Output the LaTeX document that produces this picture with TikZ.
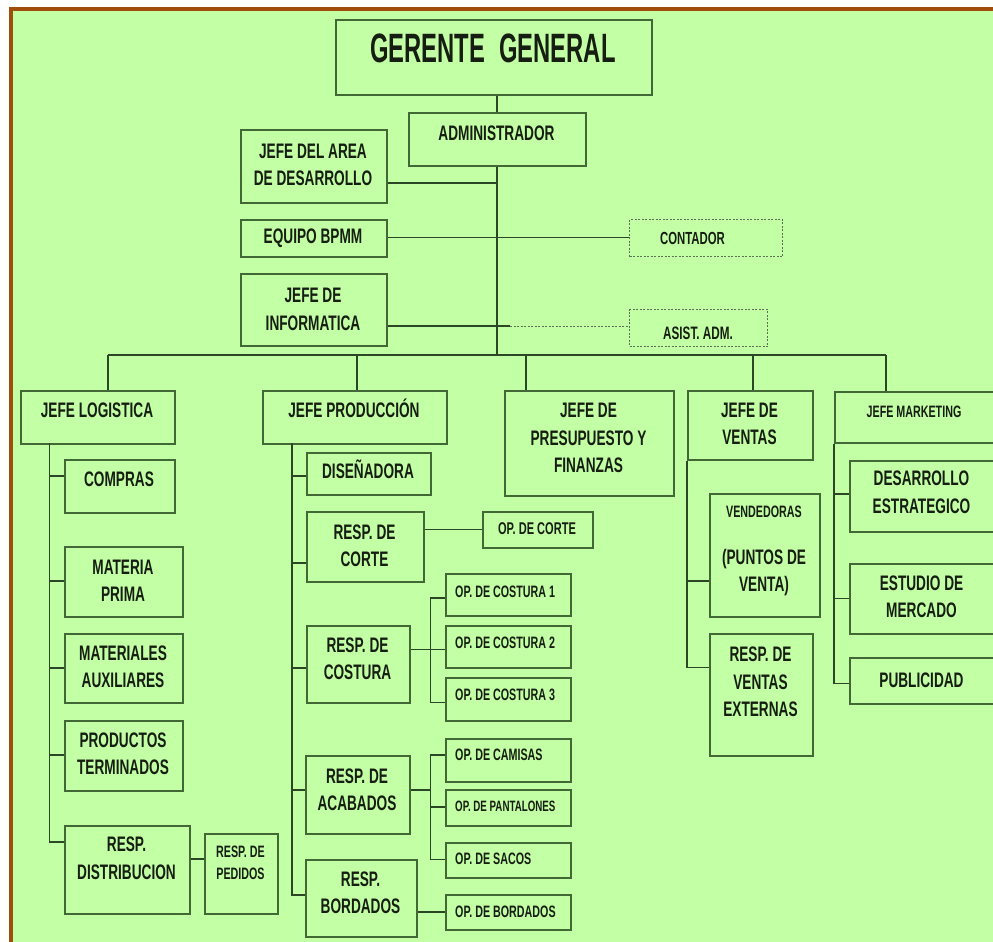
\documentclass[tikz,border=0pt]{standalone}
\usepackage{fontspec}
\setmainfont{Liberation Sans}[FakeStretch=0.65]
\newfontfamily\titlefont{Liberation Sans}[FakeStretch=0.58]
\usetikzlibrary{positioning}
\definecolor{orgbg}{RGB}{195,255,165}
\definecolor{orgframe}{RGB}{160,78,12}
\definecolor{orgline}{RGB}{66,104,54}
\definecolor{orgedge}{RGB}{42,70,36}
\definecolor{orgtext}{RGB}{22,30,18}
\newcommand\bigtxt{\fontsize{21}{27.5}\selectfont}
\newcommand\smalltxt{\fontsize{16.5}{22}\selectfont}
\tikzset{
  org box/.style={draw=orgline, fill=orgbg, line width=2pt, inner sep=0pt},
  org dash/.style={draw=orgline!60!gray, line width=1pt, dash pattern=on 2pt off 1.5pt},
  org lbl/.style={text=orgtext, font=\bfseries\bigtxt, align=center, inner sep=0pt},
  op lbl/.style={font=\bfseries\smalltxt, anchor=west, xshift=-52.5pt},
  mk lbl/.style={xshift=-3pt},
  org edge/.style={draw=orgedge, line width=1.6pt},
}
% box from its two corners, label centred at the given height
\NewDocumentCommand\orgbox{O{} O{} m m m m m m m}{%
  \node[org box, #1, anchor=north west, minimum width={(#6-#4)*1pt},
    minimum height={(#7-#5)*1pt}] (#3) at (#4,#5) {};
  \node[org lbl, #2] (#3-t) at ({(#4+#6)/2},#8) {#9};
}
\begin{document}
\begin{tikzpicture}[x=1pt, y=-1pt]
 \useasboundingbox (0,0) rectangle (993,942);
 \fill[white] (0,0) rectangle (993,942);
 \fill[orgframe] (9,7) rectangle (993,942);
 \fill[orgbg] (13,11) rectangle (993,942);
 \clip (0,0) rectangle (993,942);
 % top of the chart
 \orgbox[][font=\titlefont\bfseries\fontsize{41}{48}\selectfont]{ger}{335}{19}{651}{94}{48}{GERENTE\hspace{14pt}GENERAL}
 \orgbox{adm}{408}{112}{585}{165}{133}{ADMINISTRADOR}
 \orgbox{area}{240}{129}{386}{202}{165}{JEFE DEL AREA\\DE DESARROLLO}
 \orgbox{bpmm}{240}{219}{386}{256}{238.5}{EQUIPO BPMM}
 \orgbox{info}{240}{273}{386}{345}{309.5}{JEFE DE\\INFORMATICA}
 \orgbox[org dash][font=\bfseries\fontsize{17.5}{22}\selectfont, xshift=-13pt]{cont}{629}{219}{782}{256}{238.5}{CONTADOR}
 \orgbox[org dash][font=\bfseries\fontsize{18}{22}\selectfont]{asis}{629}{309}{767}{346}{333}{ASIST. ADM.}
 % jefaturas
 \orgbox{log}{20}{390}{174}{443}{410.5}{JEFE LOGISTICA}
 \orgbox{prod}{262}{390}{446}{443}{408}{JEFE PRODUCCIÓN}
 \orgbox{pres}{504}{390}{673}{495}{438}{JEFE DE\\PRESUPUESTO Y\\FINANZAS}
 \orgbox{vent}{687}{390}{812}{459}{424}{JEFE DE\\VENTAS}
 \orgbox[][font=\bfseries\smalltxt, mk lbl]{mkt}{834}{391}{1000}{442}{412}{JEFE MARKETING}
 % logistica
 \orgbox{comp}{64}{459}{174}{512}{479}{COMPRAS}
 \orgbox{mat}{64}{546}{182}{616}{581}{MATERIA\\PRIMA}
 \orgbox{aux}{64}{633}{182}{702}{667}{MATERIALES\\AUXILIARES}
 \orgbox{ter}{64}{720}{182}{790}{754}{PRODUCTOS\\TERMINADOS}
 \orgbox{dis}{64}{825}{189}{913}{858.5}{RESP.\\DISTRIBUCION}
 \orgbox[][font=\bfseries\smalltxt]{ped}{204}{833}{277}{913}{863}{RESP. DE\\PEDIDOS}
 % produccion
 \orgbox{dsn}{306}{452}{430}{494}{469}{DISEÑADORA}
 \orgbox{cor}{306}{511}{423}{581}{546}{RESP. DE\\CORTE}
 \orgbox[][font=\bfseries\fontsize{17}{22}\selectfont]{opc}{482}{511}{592}{547}{529}{OP. DE CORTE}
 \orgbox{cos}{306}{625}{409}{702}{659}{RESP. DE\\COSTURA}
 \orgbox[][op lbl]{oc1}{445}{573}{570}{615}{592}{OP. DE COSTURA 1}
 \orgbox[][op lbl]{oc2}{445}{625}{570}{667}{643}{OP. DE COSTURA 2}
 \orgbox[][op lbl]{oc3}{445}{677}{570}{720}{695}{OP. DE COSTURA 3}
 \orgbox{aca}{305}{755}{409}{833}{790}{RESP. DE\\ACABADOS}
 \orgbox[][op lbl]{cam}{445}{738}{570}{781}{755}{OP. DE CAMISAS}
 \orgbox[][op lbl, font=\bfseries\fontsize{15}{20}\selectfont]{pan}{445}{789}{570}{825}{806.7}{OP. DE PANTALONES}
 \orgbox[][op lbl]{sac}{445}{842}{570}{877}{859.3}{OP. DE SACOS}
 \orgbox{bor}{305}{859}{416}{936}{893}{RESP.\\BORDADOS}
 \orgbox[][op lbl]{obo}{445}{894}{570}{929}{911.7}{OP. DE BORDADOS}
 % ventas
 \orgbox{vnd}{709}{493}{819}{616}{551.4}{{\smalltxt VENDEDORAS}\\[19pt](PUNTOS DE\\VENTA)}
 \orgbox{vex}{709}{633}{812}{755}{682}{RESP. DE\\VENTAS\\EXTERNAS}
 % marketing
 \orgbox[][mk lbl]{des}{849}{460}{1000}{531}{492.5}{DESARROLLO\\ESTRATEGICO}
 \orgbox[][mk lbl]{est}{849}{563}{1000}{633}{597}{ESTUDIO DE\\MERCADO}
 \orgbox[][mk lbl]{pub}{849}{657}{1000}{703}{680}{PUBLICIDAD}

 % trunk and staff lines
 \coordinate (trunk) at (497,355);
 \draw[org edge] (ger.south -| trunk) -- (adm.north -| trunk);
 \draw[org edge] (adm.south -| trunk) -- (trunk);
 \draw[org edge] (area.east |- 0,183) -- (trunk |- 0,183);
 \draw[org edge] (bpmm.east |- 0,237.5) -- (cont.west |- 0,237.5);
 \coordinate (infj) at (510,326);
 \draw[org edge, line width=2.6pt] (info.east |- infj) -- (infj);
 \draw[org edge, line width=1pt, dash pattern=on 2pt off 1.5pt, draw=orgline!60!gray] (infj) -- (asis.west |- infj);
 % bus to the jefaturas
 \draw[org edge] (107.7,355) coordinate (b-log) -- (885.7,355) coordinate (b-mkt);
 \foreach \n/\xx in {log/107.7, prod/357, pres/526, vent/753, mkt/885.7}{
   \coordinate (b-\n) at (\xx,355);
   \draw[org edge] (b-\n) -- (b-\n |- \n.north);
 }
 % spines
 \coordinate (slog) at (49.3,443);
 \foreach \n/\yy in {comp/476, mat/581, aux/667.7, ter/755, dis/841.7}
   \draw[org edge] (slog) |- (\n.west |- 0,\yy);
 \draw[org edge] (dis.east |- 0,859) -- (ped.west |- 0,859);
 \coordinate (sprod) at (291.7,443);
 \foreach \n/\yy in {dsn/476, cor/562.7, cos/667.7, aca/790, bor/895}
   \draw[org edge] (sprod) |- (\n.west |- 0,\yy);
 \draw[org edge] (cor.east |- 0,529.3) -- (opc.west |- 0,529.3);
 \coordinate (scos) at (430.4,649.3);
 \draw[org edge] (cos.east |- scos) -- (scos);
 \foreach \n/\yy in {oc1/597.7, oc2/649.3, oc3/702.5}
   \draw[org edge] (scos) |- (\n.west |- 0,\yy);
 \coordinate (saca) at (430.4,790);
 \draw[org edge] (aca.east |- saca) -- (saca);
 \foreach \n/\yy in {cam/755, pan/806.7, sac/859.3}
   \draw[org edge] (saca) |- (\n.west |- 0,\yy);
 \draw[org edge] (bor.east |- 0,911.7) -- (obo.west |- 0,911.7);
 \foreach \n/\yy in {vnd/580.7, vex/667.3}
   \draw[org edge] (vent.south west) |- (\n.west |- 0,\yy);
 \foreach \n/\yy in {des/494, est/598.3, pub/683.3}
   \draw[org edge] (mkt.south west) |- (\n.west |- 0,\yy);
\end{tikzpicture}
\end{document}
